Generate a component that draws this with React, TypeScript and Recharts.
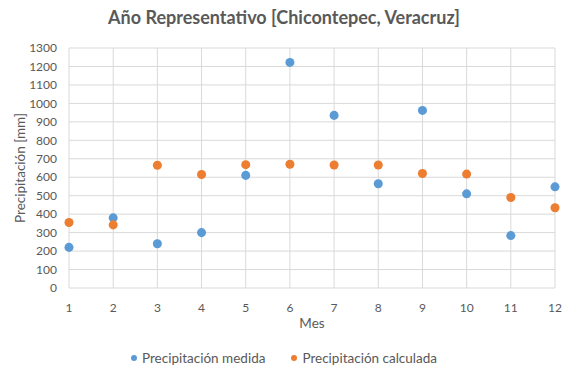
import { ScatterChart, Scatter, XAxis, YAxis, ZAxis, CartesianGrid, Label } from "recharts";

const months = [1, 2, 3, 4, 5, 6, 7, 8, 9, 10, 11, 12];
const measured = [220, 380, 240, 300, 610, 1222, 935, 565, 962, 510, 284, 548];
const calculated = [355, 342, 665, 615, 668, 670, 666, 666, 620, 617, 490, 435];
const yTicks = [0, 100, 200, 300, 400, 500, 600, 700, 800, 900, 1000, 1100, 1200, 1300];

const measuredData = months.map((m, i) => ({ mes: m, valor: measured[i] }));
const calculatedData = months.map((m, i) => ({ mes: m, valor: calculated[i] }));

const FONT = "Lato, 'Open Sans', sans-serif";
const GREY = "#595959";
const BLUE = "#5B9BD5";
const ORANGE = "#ED7D31";

export default function App() {
  return (
    <div style={{ position: "absolute", left: 0, top: 0, width: 568, height: 374, background: "#fff", fontFamily: FONT }}>
      <div
        style={{
          position: "absolute",
          top: 6,
          left: 0,
          width: 568,
          textAlign: "center",
          fontSize: 18,
          fontWeight: 700,
          color: GREY,
        }}
      >
        Año Representativo [Chicontepec, Veracruz]
      </div>
      <ScatterChart width={568} height={374} margin={{ top: 48, right: 13, bottom: 46, left: 0 }}>
        <CartesianGrid stroke="#d9d9d9" />
        <XAxis
          type="number"
          dataKey="mes"
          domain={[1, 12]}
          ticks={months}
          interval={0}
          axisLine={false}
          tickLine={false}
          tickMargin={9}
          height={40}
          tick={{ fill: GREY, fontSize: 12, fontFamily: FONT }}
        >
          <Label value="Mes" position="insideBottom" offset={0} fill={GREY} fontSize={13.5} fontFamily={FONT} />
        </XAxis>
        <YAxis
          type="number"
          dataKey="valor"
          domain={[0, 1300]}
          ticks={yTicks}
          interval={0}
          axisLine={false}
          tickLine={false}
          tickMargin={6}
          width={69}
          tick={{ fill: GREY, fontSize: 12, fontFamily: FONT }}
        >
          <Label
            value="Precipitación [mm]"
            angle={-90}
            position="insideLeft"
            offset={20}
            style={{ textAnchor: "middle" }}
            fill={GREY}
            fontSize={13.5}
            fontFamily={FONT}
          />
        </YAxis>
        <ZAxis range={[50, 50]} />
        <Scatter name="Precipitación medida" data={measuredData} fill={BLUE} isAnimationActive={false} />
        <Scatter name="Precipitación calculada" data={calculatedData} fill={ORANGE} isAnimationActive={false} />
      </ScatterChart>
      <div
        style={{
          position: "absolute",
          top: 350,
          left: 0,
          width: 568,
          display: "flex",
          justifyContent: "center",
          gap: 26,
          fontSize: 13.5,
          color: GREY,
        }}
      >
        {[
          { name: "Precipitación medida", color: BLUE },
          { name: "Precipitación calculada", color: ORANGE },
        ].map((item) => (
          <div key={item.name} style={{ display: "flex", alignItems: "center" }}>
            <span
              style={{ display: "inline-block", width: 6, height: 6, borderRadius: 3, background: item.color, marginRight: 5 }}
            />
            {item.name}
          </div>
        ))}
      </div>
    </div>
  );
}
